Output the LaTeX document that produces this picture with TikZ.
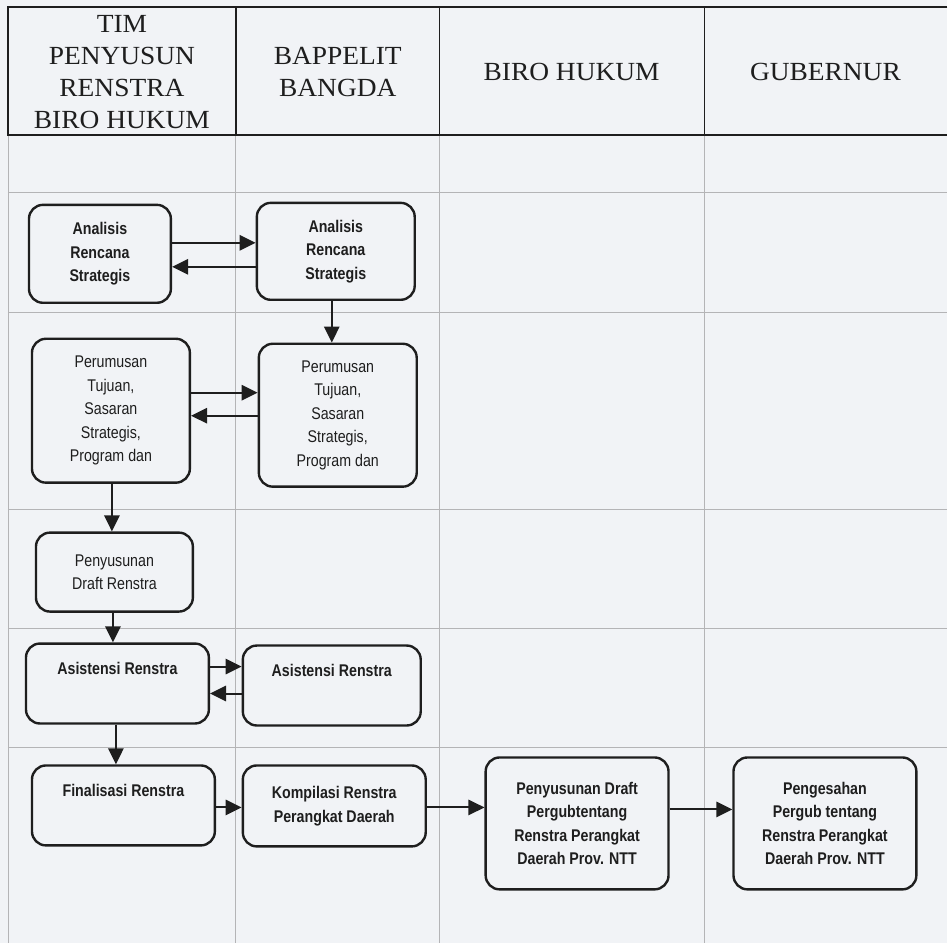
\documentclass[tikz,border=0pt]{standalone}
\usepackage{fontspec}
\setmainfont{Liberation Serif}
\newfontfamily\headfont[FakeStretch=1.05]{Liberation Serif}
\newfontfamily\boxfont[FakeStretch=0.84]{Liberation Sans}
\usetikzlibrary{arrows.meta}
\definecolor{paper}{HTML}{F1F3F6}
\definecolor{gridgray}{HTML}{B4B4B6}
\definecolor{ink}{HTML}{1E1E1E}
\begin{document}
\begin{tikzpicture}[x=0.75pt,y=-0.75pt,
  stepbox/.style={draw=ink, line width=1.8pt, rounded corners=10.5pt, fill=paper,
    align=center, inner sep=0pt, text=ink,
    font=\boxfont\fontsize{12.7}{17.6}\selectfont},
  boldbox/.style={stepbox, font=\boxfont\bfseries\fontsize{12.7}{17.6}\selectfont},
  wh/.style 2 args={minimum width=#1*0.75pt, minimum height=#2*0.75pt},
  flow/.style={draw=ink, line width=1.5pt, -{Triangle[length=12pt,width=11.5pt]}},
  lane/.style={align=center, text=ink, inner sep=0pt,
    font=\headfont\fontsize{19.6}{24}\selectfont},
  gridline/.style={draw=gridgray, line width=0.6pt},
  headline/.style={draw=ink, line width=1pt}]

% paper
\fill[paper] (0,0) rectangle (948,944);

% swimlane grid below the header
\foreach \x in {8,236,440,705} \draw[gridline] (\x,135) -- (\x,944);
\foreach \y in {193,313,510,629,748} \draw[gridline] (8,\y) -- (948,\y);

% header row
\draw[headline] (948,7) -- (8,7) -- (8,135) -- (948,135);
\foreach \x in {236,440,705} \draw[headline] (\x,7) -- (\x,135);

\node[lane] (h1) at (122,72) {TIM\\PENYUSUN\\RENSTRA\\BIRO HUKUM};
\node[lane] (h2) at (338,72) {BAPPELIT\\BANGDA};
\node[lane] (h3) at (572,72) {BIRO HUKUM};
\node[lane] (h4) at (826,72) {GUBERNUR};

% process steps
\node[boldbox, wh={142}{98}]  (a1) at (100,254)   {Analisis\\Rencana\\Strategis};
\node[boldbox, wh={158}{97}]  (b1) at (336,251.5) {Analisis\\Rencana\\Strategis};
\node[stepbox, wh={158}{144}] (a2) at (111,411)   {Perumusan\\Tujuan,\\Sasaran\\Strategis,\\Program dan};
\node[stepbox, wh={158}{143}] (b2) at (338,415.5) {Perumusan\\Tujuan,\\Sasaran\\Strategis,\\Program dan};
\node[stepbox, wh={157}{79}]  (a3) at (114.5,572.5) {Penyusunan\\Draft Renstra};
\node[boldbox, wh={183}{80}]  (a4) at (117.5,684) {Asistensi Renstra\\\strut};
\node[boldbox, wh={178}{80}]  (b4) at (332,686)   {Asistensi Renstra\\\strut};
\node[boldbox, wh={183}{80}]  (a5) at (123.5,806) {Finalisasi Renstra\\\strut};
\node[boldbox, wh={183}{81}]  (b5) at (334.5,806.5) {Kompilasi Renstra\\Perangkat Daerah};
\node[boldbox, wh={183}{132}] (c5) at (577.5,824) {Penyusunan Draft\\Pergubtentang\\Renstra Perangkat\\Daerah Prov. NTT};
\node[boldbox, wh={183}{132}] (d5) at (825.5,824) {Pengesahan\\Pergub tentang\\Renstra Perangkat\\Daerah Prov. NTT};

% connectors
\draw[flow] (a1.east |- 0,243) -- (b1.west |- 0,243);
\draw[flow] (b1.west |- 0,267) -- (a1.east |- 0,267);
\draw[flow] (b1.south -| 332,0) -- (b2.north -| 332,0);
\draw[flow] (a2.east |- 0,393) -- (b2.west |- 0,393);
\draw[flow] (b2.west |- 0,416) -- (a2.east |- 0,416);
\draw[flow] (a2.south -| 112,0) -- (a3.north -| 112,0);
\draw[flow] (a3.south -| 113,0) -- (a4.north -| 113,0);
\draw[flow] (a4.east |- 0,667) -- (b4.west |- 0,667);
\draw[flow] (b4.west |- 0,694) -- (a4.east |- 0,694);
\draw[flow] (a4.south -| 116,0) -- (a5.north -| 116,0);
\draw[flow] (a5.east |- 0,808) -- (b5.west |- 0,808);
\draw[flow] (b5.east |- 0,808) -- (c5.west |- 0,808);
\draw[flow] (c5.east |- 0,810) -- (d5.west |- 0,810);
\end{tikzpicture}
\end{document}
